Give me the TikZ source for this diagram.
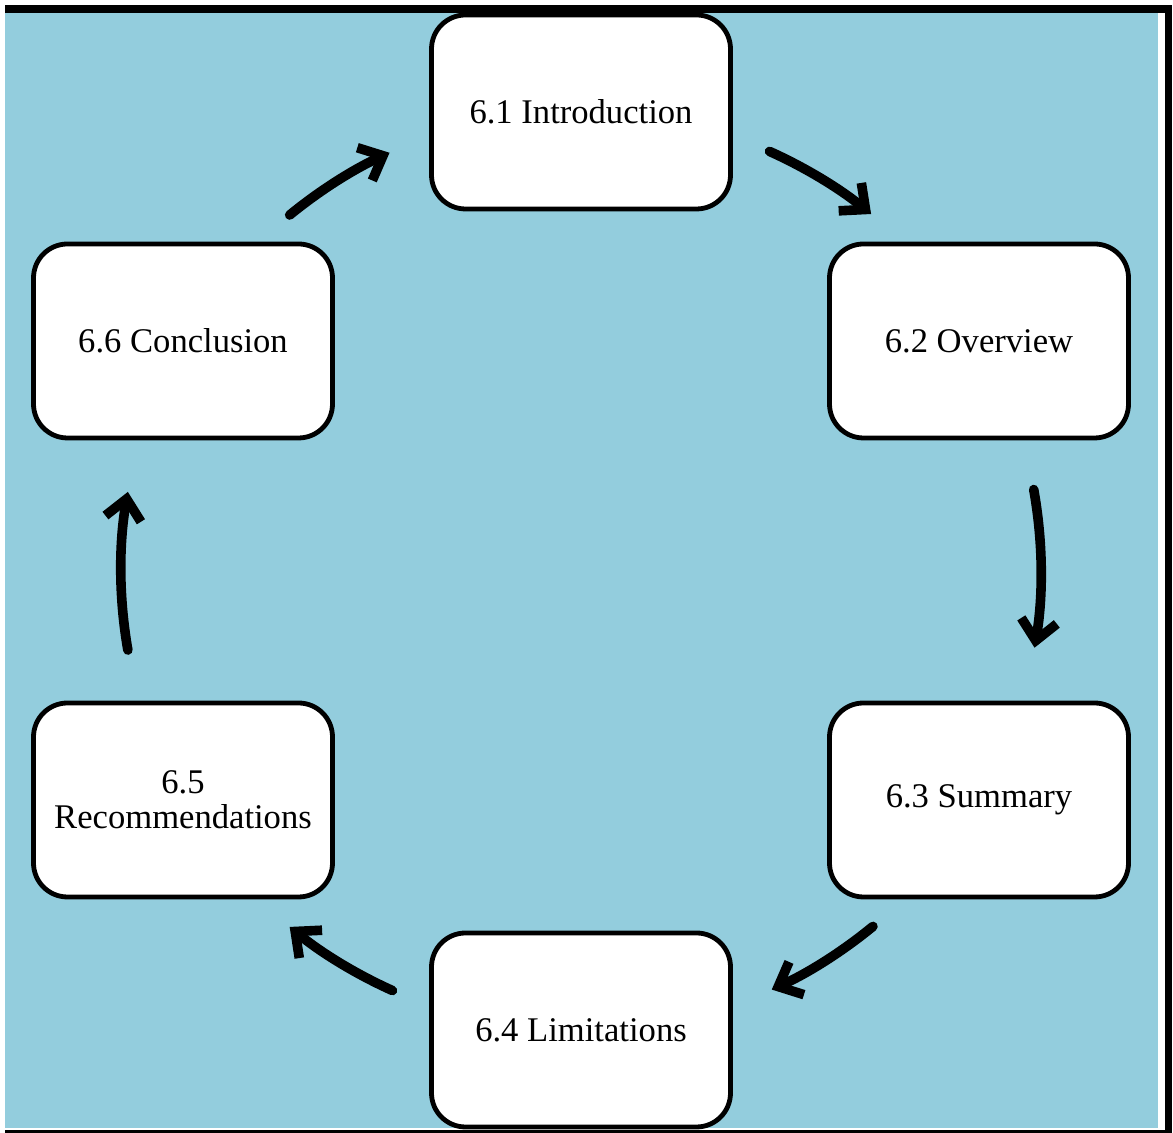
\documentclass[tikz,border=0pt]{standalone}
\usepackage{fontspec}
\setmainfont{Liberation Serif}
\usepackage{xcolor}
\usepackage{tikz}
\usetikzlibrary{arrows.meta, positioning}
\definecolor{cyclebg}{HTML}{93CDDD}

\begin{document}
\begin{tikzpicture}[x=0.5pt, y=0.5pt,
    stage/.style={draw, line width=2.4pt, fill=white, rounded corners=17pt,
      minimum width=149.5pt, minimum height=97pt, align=center,
      font=\fontsize{17.3}{17.5}\selectfont},
    flow/.style={line width=4.8pt, line cap=round,
      -{Straight Barb[length=10pt, width=18pt]}}]
    \useasboundingbox (0,0) rectangle (1173,1133);
    % Background and frame
    \fill[cyclebg] (5,5) rectangle (1158,1120);
    \fill[black] (5,1120) rectangle (1172,1128);
    \fill[black] (1165,0) rectangle (1172,1128);
    \fill[black] (5,0) rectangle (1172,3);
    % Centre of the cycle
    \coordinate (hub) at (581,562);
    % Stages
    \node[stage] (intro) at (581,1021) {6.1 Introduction};
    \node[stage] (over) at (979,792) {6.2 Overview};
    \node[stage] (summ) at (979,333) {6.3 Summary};
    \node[stage] (limit) at (581,103) {6.4 Limitations};
    \node[stage] (recom) at (183,333) {6.5\\Recommendations};
    \node[stage] (concl) at (183,792) {6.6 Conclusion};
    % Arrows round the cycle (arcs about the hub)
    \draw[flow] (hub) ++(129.3:460) arc[start angle=129.3, end angle=114.6, radius=460];
    \draw[flow] (hub) ++(65.8:460) arc[start angle=65.8, end angle=50.9, radius=460];
    \draw[flow] (hub) ++(10.2:460) arc[start angle=10.2, end angle=-9.6, radius=460];
    \draw[flow] (hub) ++(-50.6:460) arc[start angle=-50.6, end angle=-65.5, radius=460];
    \draw[flow] (hub) ++(-114.2:460) arc[start angle=-114.2, end angle=-129.3, radius=460];
    \draw[flow] (hub) ++(189.9:460) arc[start angle=189.9, end angle=170.1, radius=460];
  \end{tikzpicture}
\end{document}
